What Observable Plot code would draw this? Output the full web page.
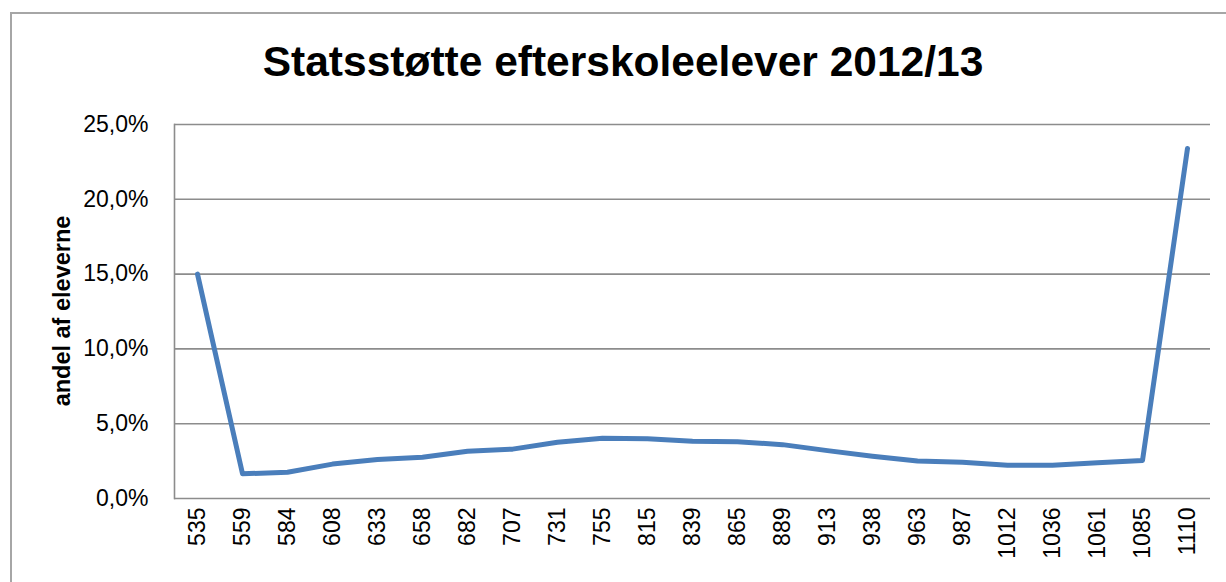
<!DOCTYPE html>
<html>
<head>
<meta charset="utf-8">
<script src="https://cdn.jsdelivr.net/npm/d3@7"></script>
<script src="https://cdn.jsdelivr.net/npm/@observablehq/plot@0.6"></script>
<style>
  html, body { margin: 0; padding: 0; background: #fff; }
  #wrap { position: relative; width: 1226px; height: 582px; overflow: hidden; background: #fff; }
  #frame { position: absolute; left: 10px; top: 12px; width: 1240px; height: 600px; border: 2px solid #a6a6a6; box-sizing: border-box; }
  #title { position: absolute; left: 0; top: 36px; width: 1246px; text-align: center;
           font-family: "Liberation Sans", Arial, sans-serif; font-weight: bold; font-size: 42.5px; line-height: 52px; color: #000; }
  #ylabel { position: absolute; left: 62px; top: 311px; transform: translate(-50%, -50%) rotate(-90deg);
            font-family: "Liberation Sans", Arial, sans-serif; font-weight: bold; font-size: 23.5px; white-space: nowrap; color: #000; }
  #chart { position: absolute; left: 0; top: 100px; }
</style>
</head>
<body>
<div id="wrap">
  <div id="frame"></div>
  <div id="title">Statsstøtte efterskoleelever 2012/13</div>
  <div id="chart"></div>
  <div id="ylabel">andel af eleverne</div>
</div>
<script>
const categories = ["535","559","584","608","633","658","682","707","731","755","815","839","865","889","913","938","963","987","1012","1036","1061","1085","1110"];
const shares = [15.0, 1.65, 1.76, 2.3, 2.6, 2.76, 3.16, 3.3, 3.76, 4.03, 4.0, 3.83, 3.8, 3.6, 3.2, 2.83, 2.5, 2.42, 2.23, 2.23, 2.39, 2.54, 23.4];
const yTicks = [0, 5, 10, 15, 20, 25];

const data = categories.map((c, i) => ({cat: c, value: shares[i]}));

const plot = Plot.plot({
  width: 1226,
  height: 482,
  marginTop: 24,
  marginBottom: 84,
  marginLeft: 174,
  marginRight: 16,
  style: { fontFamily: "'Liberation Sans', Arial, sans-serif", background: "transparent", color: "#000" },
  x: { type: "point", domain: categories, padding: 0.5 },
  y: { domain: [0, 25] },
  marks: [
    Plot.ruleY(yTicks, { stroke: "#8c8c8c", strokeWidth: 1.6 }),
    Plot.frame({ anchor: "left", stroke: "#8c8c8c", strokeWidth: 1.6 }),
    Plot.axisY({ ticks: yTicks, tickSize: 0, tickPadding: 26, fontSize: 23, label: null,
                 tickFormat: d => d.toFixed(1).replace(".", ",") + "%" }),
    Plot.axisX({ tickSize: 0, tickPadding: 9, tickRotate: -90, fontSize: 23, label: null }),
    Plot.lineY(data, { x: "cat", y: "value", stroke: "#4a7ebb", strokeWidth: 5, strokeLinejoin: "round", strokeLinecap: "round" })
  ]
});
document.getElementById("chart").appendChild(plot);
</script>
</body>
</html>
